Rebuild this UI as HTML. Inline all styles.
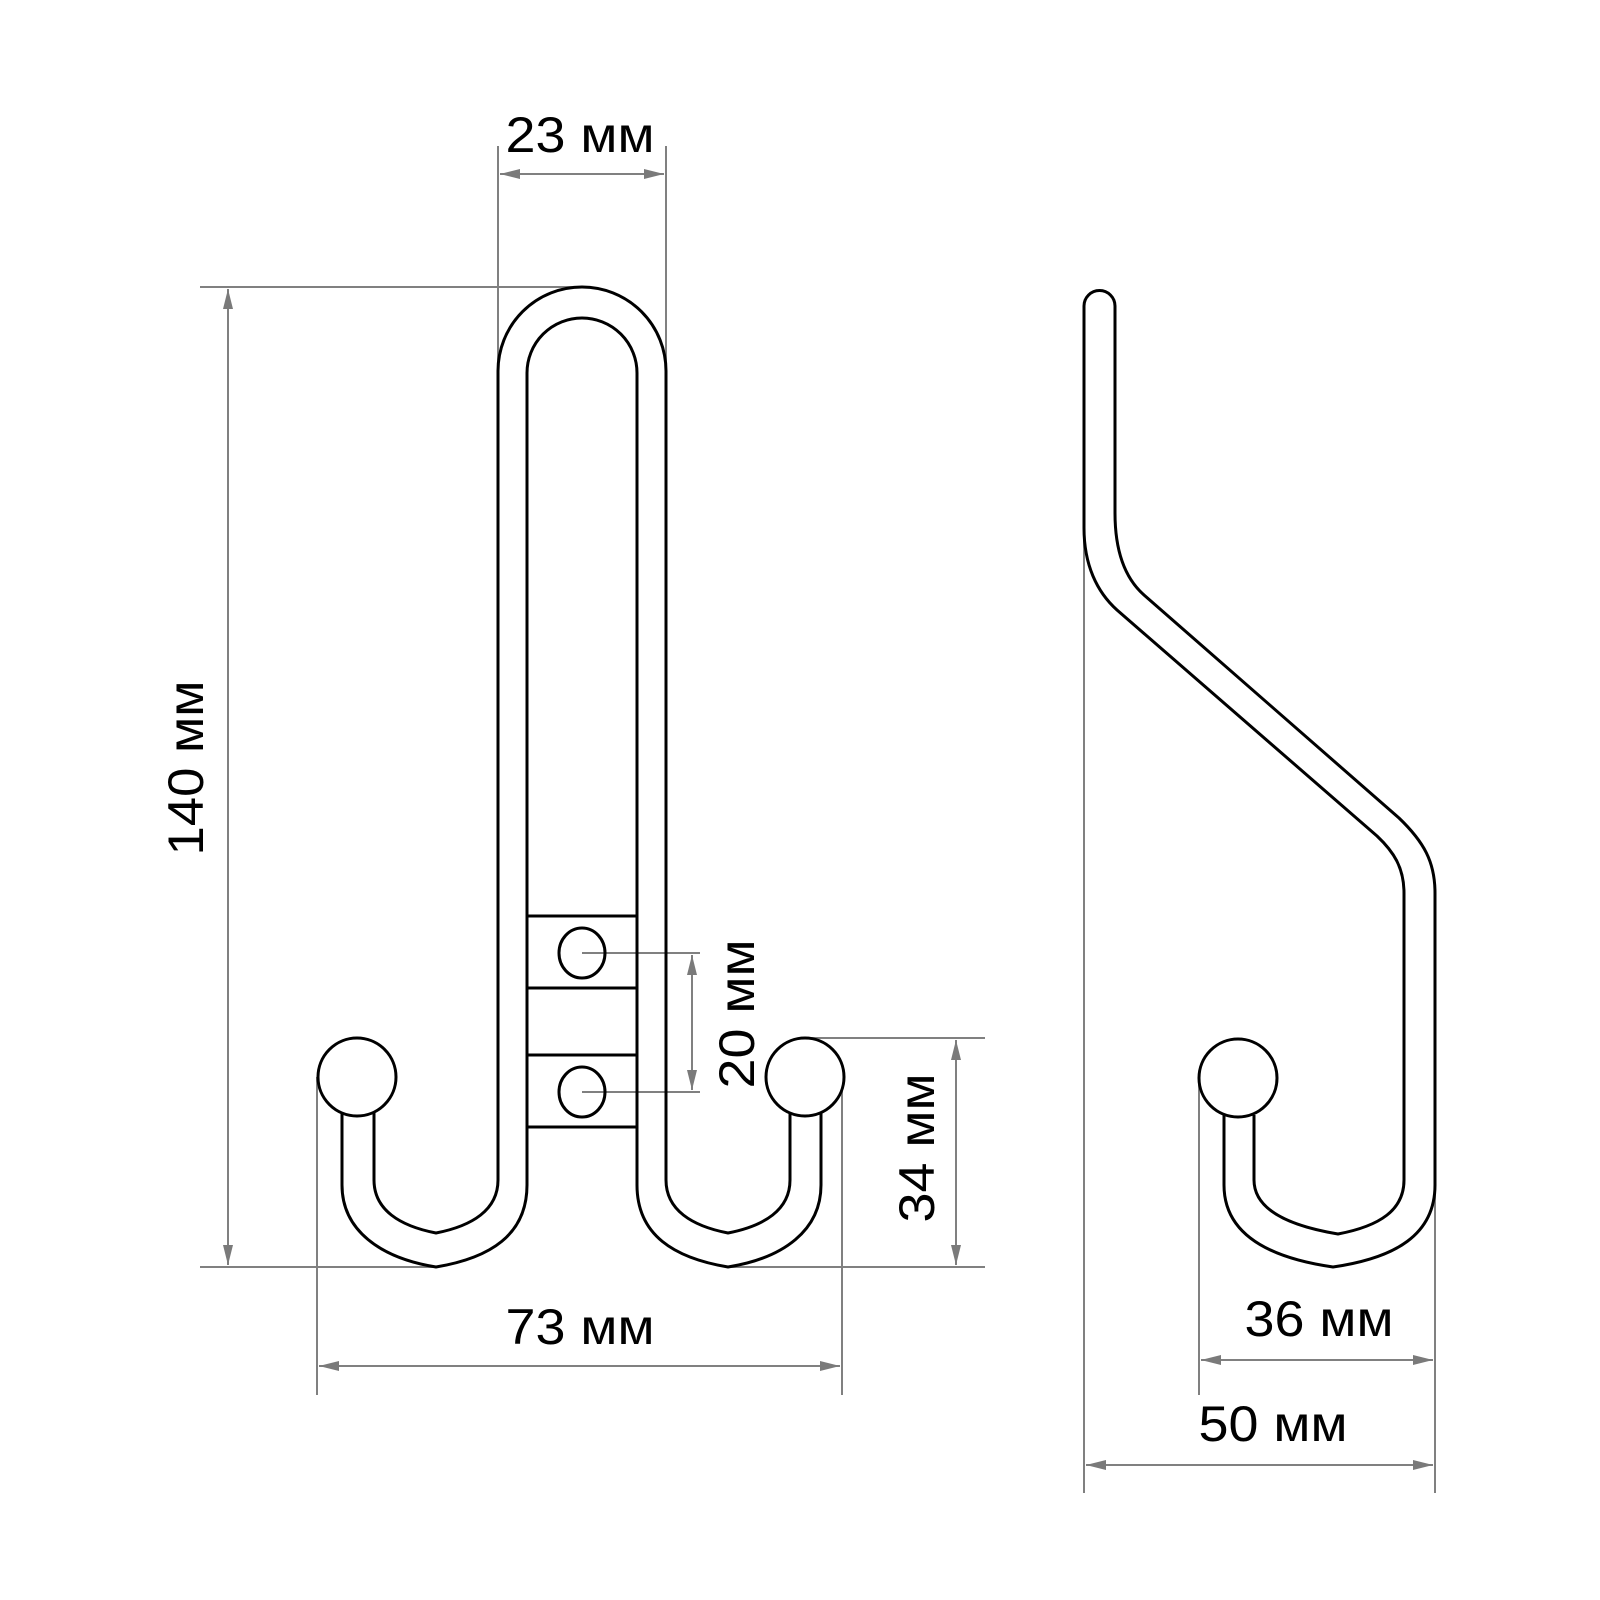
<!DOCTYPE html>
<html><head><meta charset="utf-8"><style>html,body{margin:0;padding:0;background:#fff}svg{display:block}</style></head>
<body>
<svg width="1600" height="1600" viewBox="0 0 1600 1600" xmlns="http://www.w3.org/2000/svg">
<defs>
<marker id="a" viewBox="0 0 20 10" refX="20" refY="5" markerWidth="20" markerHeight="10" markerUnits="userSpaceOnUse" orient="auto-start-reverse"><path d="M0,0 L20,5 L0,10 z" fill="#7a7a7a"/></marker>
</defs>
<g stroke="#808080" stroke-width="2" fill="none">
<line x1="200" y1="287" x2="583" y2="287"/>
<line x1="498" y1="146" x2="498" y2="371"/>
<line x1="666" y1="146" x2="666" y2="371"/>
<line x1="500" y1="174" x2="664" y2="174" marker-start="url(#a)" marker-end="url(#a)"/>
<line x1="228" y1="289" x2="228" y2="1265" marker-start="url(#a)" marker-end="url(#a)"/>
<line x1="200" y1="1267" x2="436" y2="1267"/>
<line x1="728" y1="1267" x2="985" y2="1267"/>
<line x1="317" y1="1077" x2="317" y2="1395"/>
<line x1="842" y1="1077" x2="842" y2="1395"/>
<line x1="319" y1="1366" x2="840" y2="1366" marker-start="url(#a)" marker-end="url(#a)"/>
<line x1="805" y1="1038" x2="985" y2="1038"/>
<line x1="956" y1="1040" x2="956" y2="1265" marker-start="url(#a)" marker-end="url(#a)"/>
<line x1="582" y1="953" x2="700" y2="953"/>
<line x1="582" y1="1092" x2="700" y2="1092"/>
<line x1="692" y1="955" x2="692" y2="1090" marker-start="url(#a)" marker-end="url(#a)"/>
<line x1="1084" y1="528" x2="1084" y2="1493"/>
<line x1="1435" y1="1098" x2="1435" y2="1493"/>
<line x1="1199" y1="1078" x2="1199" y2="1395"/>
<line x1="1201" y1="1360" x2="1433" y2="1360" marker-start="url(#a)" marker-end="url(#a)"/>
<line x1="1086" y1="1465" x2="1433" y2="1465" marker-start="url(#a)" marker-end="url(#a)"/>
</g>
<g stroke="#000" stroke-width="3" fill="none" stroke-linejoin="round">
<path d="M498 1180 L498 371 A84 84 0 0 1 666 371 L666 1180"/>
<path d="M527 1185 L527 373 A55 55 0 0 1 637 373 L637 1185"/>
<path d="M498 1180 C498 1210 472 1226 436 1233 C400 1226 374 1210 374 1180 L374 1113"/>
<path d="M527 1185 C527 1235 490 1258 436 1267 C380 1258 342 1230 342 1185 L342 1110"/>
<path d="M666 1180 C666 1210 692 1226 728 1233 C764 1226 790 1210 790 1180 L790 1113"/>
<path d="M637 1185 C637 1235 674 1258 728 1267 C784 1258 821 1230 821 1185 L821 1110"/>
<circle cx="357" cy="1077" r="39" fill="#fff"/>
<circle cx="805" cy="1077" r="39" fill="#fff"/>
<line x1="527" y1="916" x2="637" y2="916"/>
<line x1="527" y1="988" x2="637" y2="988"/>
<line x1="527" y1="1055" x2="637" y2="1055"/>
<line x1="527" y1="1127" x2="637" y2="1127"/>
<ellipse cx="582" cy="953" rx="23" ry="25"/>
<ellipse cx="582" cy="1092" rx="23" ry="25"/>
<path d="M1084 528 L1084 306 A15.5 15.5 0 0 1 1115 306 L1115 513 C1115 555 1127 580 1144 595 L1399 818 C1424 842 1435 862 1435 893 L1435 1185 C1435 1235 1395 1258 1333 1267 C1270 1258 1224 1235 1224 1185 L1224 1112"/>
<path d="M1084 528 C1084 565 1097 592 1117 610 L1377 836 C1394 852 1404 868 1404 893 L1404 1180 C1404 1210 1380 1226 1338 1234 C1290 1226 1254 1210 1254 1180 L1254 1115"/>
<circle cx="1238" cy="1078" r="39" fill="#fff"/>
</g>
<g font-family="Liberation Sans, DejaVu Sans, sans-serif" font-size="50" fill="#000" text-anchor="middle">
<text x="580" y="152" textLength="149" lengthAdjust="spacingAndGlyphs">23 мм</text>
<text x="580" y="1344" textLength="149" lengthAdjust="spacingAndGlyphs">73 мм</text>
<text x="1319" y="1336" textLength="149" lengthAdjust="spacingAndGlyphs">36 мм</text>
<text x="1273" y="1441" textLength="149" lengthAdjust="spacingAndGlyphs">50 мм</text>
<text transform="translate(203 768) rotate(-90)" textLength="175" lengthAdjust="spacingAndGlyphs">140 мм</text>
<text transform="translate(934 1148) rotate(-90)" textLength="149" lengthAdjust="spacingAndGlyphs">34 мм</text>
<text transform="translate(754 1014) rotate(-90)" textLength="149" lengthAdjust="spacingAndGlyphs">20 мм</text>
</g>
</svg>
</body></html>
